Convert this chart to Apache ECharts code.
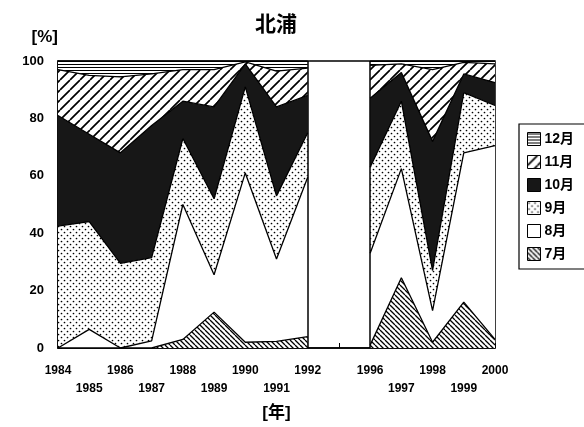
<!DOCTYPE html>
<html><head><meta charset="utf-8">
<script src="https://cdn.jsdelivr.net/npm/echarts@6/dist/echarts.min.js"></script>
<style>html,body{margin:0;padding:0;background:#fff}#c{width:584px;height:427px}</style>
</head><body><div id="c"></div>
<script>
// Categories (blank slot = missing years 1993-1995)
const years = ['1984','1985','1986','1987','1988','1989','1990','1991','1992','','1996','1997','1998','1999','2000'];
// Monthly shares [%]
const jul = [0, 0, 0, 0, 3, 12.5, 2, 2.3, 4, null, 1, 24.5, 2, 16, 3];
const aug = [0, 6.5, 0, 2.5, 47, 13, 59, 28.7, 55.5, null, 32, 38, 11, 52, 67.5];
const sep = [42.5, 37.5, 29.5, 29, 23, 26.5, 30, 22, 15.5, null, 30, 23.5, 14, 21, 14];
const oct = [38.5, 30.5, 38.5, 46, 13, 32, 8, 31, 13, null, 24, 10, 45, 6.5, 8];
const nov = [16, 20.5, 26.5, 18, 11, 13, 0.7, 12.5, 9.5, null, 11.5, 3, 25, 4, 6.5];
const dec = [3, 5, 5.5, 4.5, 3, 3, 0.3, 3.5, 2.5, null, 1.5, 1, 3, 0.5, 1];
const seriesNames = ['7月','8月','9月','10月','11月','12月'];
const yTicks = [0, 20, 40, 60, 80, 100];

function mk(w, h, draw) {
  const c = document.createElement('canvas'); c.width = w; c.height = h;
  const g = c.getContext('2d');
  g.fillStyle = '#fff'; g.fillRect(0, 0, w, h);
  g.strokeStyle = '#000'; g.fillStyle = '#000';
  draw(g, w, h);
  return { image: c, repeat: 'repeat' };
}
const pJul = mk(5, 5, (g, w, h) => { g.lineWidth = 1.3; g.beginPath(); for (let k = -1; k <= 1; k++) { g.moveTo(k*w, 0); g.lineTo(k*w + w, h); } g.stroke(); });
const pAug = '#ffffff';
const pSep = mk(6, 6, (g) => { [[1.5,1.5],[4.5,4.5]].forEach(p => { g.beginPath(); g.arc(p[0], p[1], 0.85, 0, Math.PI*2); g.fill(); }); });
const pOct = '#171717';
const pNov = mk(10, 10, (g, w, h) => { g.lineWidth = 1.7; g.beginPath(); for (let k = -1; k <= 1; k++) { g.moveTo(k*w, h); g.lineTo(k*w + w, 0); } g.stroke(); });
const pDec = mk(4, 3, (g, w) => { g.lineWidth = 1; g.beginPath(); g.moveTo(0, 1.5); g.lineTo(w, 1.5); g.stroke(); });
const fills = [pJul, pAug, pSep, pOct, pNov, pDec];
const datasets = [jul, aug, sep, oct, nov, dec];

const font = '"Liberation Sans", "Noto Sans CJK JP", sans-serif';
const series = datasets.map((d, i) => {
  const s = {
    name: seriesNames[i], type: 'line', stack: 'total', data: d,
    symbol: 'none', connectNulls: false, smooth: false,
    lineStyle: { color: '#000', width: 1.3 },
    itemStyle: { color: fills[i], borderColor: '#000', borderWidth: 1 },
    areaStyle: { color: fills[i], opacity: 1 },
    emphasis: { disabled: true }, silent: true
  };
  if (i === 5) {
    s.markLine = { silent: true, symbol: 'none', label: { show: false },
      lineStyle: { color: '#000', width: 1.5, type: 'solid' },
      data: [{ xAxis: '1992' }, { xAxis: '1996' }] };
  }
  return s;
});

const chart = echarts.init(document.getElementById('c'));
chart.setOption({
  animation: false,
  backgroundColor: '#fff',
  title: { text: '北浦', left: 250, top: 10, textStyle: { fontFamily: font, fontSize: 21, fontWeight: 'bold', color: '#000' } },
  legend: {
    orient: 'vertical', left: 519, top: 124, padding: [8, 30, 8, 8],
    borderColor: '#000', borderWidth: 1.2,
    itemWidth: 13, itemHeight: 13, itemGap: 9, icon: 'rect',
    itemStyle: { borderColor: '#000', borderWidth: 1 },
    textStyle: { fontFamily: font, fontSize: 14, fontWeight: 'bold', color: '#000', padding: [0, 0, 0, -1] },
    data: seriesNames.slice().reverse().map(n => ({ name: n, icon: 'rect',
      itemStyle: { color: fills[seriesNames.indexOf(n)], borderColor: '#000', borderWidth: 1 } })),
    selectedMode: false
  },
  grid: { left: 58, right: 89, top: 61, bottom: 79, show: true, borderColor: '#000', borderWidth: 1.5, backgroundColor: 'transparent' },
  xAxis: {
    type: 'category', data: years, boundaryGap: false,
    name: '[年]', nameLocation: 'middle', nameGap: 57,
    nameTextStyle: { fontFamily: font, fontSize: 17, fontWeight: 'bold', color: '#000' },
    axisLine: { lineStyle: { color: '#000', width: 1.5 } },
    axisTick: { inside: true, length: 5, lineStyle: { color: '#000' }, interval: 0 },
    axisLabel: { interval: 0, margin: 14, fontFamily: font, fontSize: 12, fontWeight: 'bold', color: '#000', lineHeight: 18,
      formatter: (v, i) => (i % 2 ? '\n' + v : v) },
    splitLine: { show: false }
  },
  yAxis: {
    type: 'value', min: 0, max: 100, interval: 20,
    name: '[%]', nameLocation: 'end', nameGap: 15,
    nameTextStyle: { fontFamily: font, fontSize: 17, fontWeight: 'bold', color: '#000', align: 'right', padding: [0, 0, 0, 0] },
    axisLine: { show: true, lineStyle: { color: '#000', width: 1.5 } },
    axisTick: { show: true, inside: true, length: 4, lineStyle: { color: '#000' } },
    axisLabel: { margin: 14, fontFamily: font, fontSize: 13, fontWeight: 'bold', color: '#000',
      formatter: v => (yTicks.indexOf(v) >= 0 ? String(v) : '') },
    splitLine: { show: false }
  },
  series: series
});
</script>
</body></html>
